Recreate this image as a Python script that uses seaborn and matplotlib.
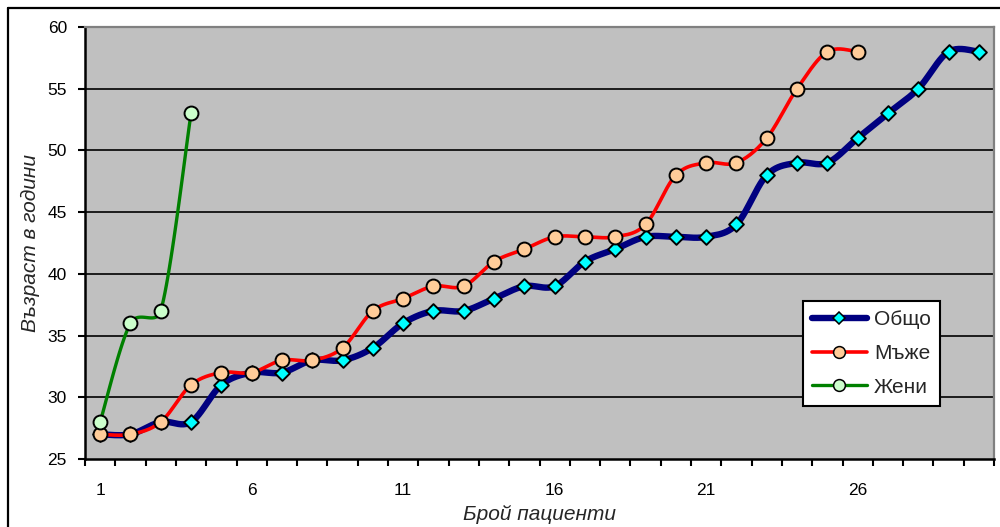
import numpy as np
import pandas as pd
import matplotlib
matplotlib.use("Agg")
import matplotlib.pyplot as plt
from matplotlib.lines import Line2D
import seaborn as sns

# Patient ages, sorted ascending, per group
patients_total = list(range(1, 31))
age_total = [27, 27, 28, 28, 31, 32, 32, 33, 33, 34, 36, 37, 37, 38, 39,
             39, 41, 42, 43, 43, 43, 44, 48, 49, 49, 51, 53, 55, 58, 58]
patients_men = list(range(1, 27))
age_men = [27, 27, 28, 31, 32, 32, 33, 33, 34, 37, 38, 39, 39, 41, 42,
           43, 43, 43, 44, 48, 49, 49, 51, 55, 58, 58]
patients_women = [1, 2, 3, 4]
age_women = [28, 36, 37, 53]

x_tick_labels = ["1", "6", "11", "16", "21", "26"]
y_ticks = [25, 30, 35, 40, 45, 50, 55, 60]

sns.set_theme(style="white")
plt.rcParams["font.family"] = ["Liberation Sans", "DejaVu Sans"]


def smooth(ax, xs, ys, n=24):
    """Spreadsheet-style smoothed line: Bezier segments whose control
    vectors are limited to half the segment length (in screen space)."""
    data = np.column_stack([xs, ys]).astype(float)
    pts = ax.transData.transform(data)
    m = len(pts)
    out = []
    for i in range(m - 1):
        p0 = pts[i - 1] if i > 0 else pts[i]
        p1 = pts[i]
        p2 = pts[i + 1]
        p3 = pts[i + 2] if i + 2 < m else pts[i + 1]
        d12 = np.hypot(*(p2 - p1))
        d02 = np.hypot(*(p2 - p0))
        d13 = np.hypot(*(p3 - p1))
        f1 = 1 / 6 if d02 / 6 < d12 / 2 else d12 / d02 / 2
        f2 = 1 / 6 if d13 / 6 < d12 / 2 else d12 / d13 / 2
        c1 = p1 + (p2 - p0) * f1
        c2 = p2 - (p3 - p1) * f2
        t = np.linspace(0, 1, n, endpoint=(i == m - 2))[:, None]
        seg = ((1 - t) ** 3) * p1 + 3 * ((1 - t) ** 2) * t * c1 \
            + 3 * (1 - t) * t ** 2 * c2 + t ** 3 * p2
        out.append(seg)
    arr = ax.transData.inverted().transform(np.vstack(out))
    return pd.DataFrame({"x": arr[:, 0], "y": arr[:, 1]})


fig = plt.figure(figsize=(10, 5.27), dpi=100)
ax = fig.add_axes([85 / 1000, (527 - 459) / 527, (994 - 85) / 1000, (459 - 27) / 527])
ax.set_facecolor("#C0C0C0")
ax.set_xlim(0.5, 30.5)
ax.set_ylim(25, 60)

series = [
    ("Общо", patients_total, age_total, "#000080", 4.6, "D", "#00FFFF", 7.5),
    ("Мъже", patients_men, age_men, "#FF0000", 2.6, "o", "#FFCC99", 10),
    ("Жени", patients_women, age_women, "#008000", 2.4, "o", "#CCFFCC", 10),
]

z = 3
handles = []
for name, xs, ys, lc, lw, mk, mfc, ms in series:
    curve = smooth(ax, xs, ys)
    sns.lineplot(data=curve, x="x", y="y", sort=False, estimator=None,
                 color=lc, linewidth=lw, ax=ax, zorder=z)
    pts = pd.DataFrame({"x": xs, "y": ys})
    sns.scatterplot(data=pts, x="x", y="y", marker=mk, s=ms ** 2,
                    color=mfc, edgecolor="black", linewidth=1.4, ax=ax, zorder=z + 1)
    z += 2
    handles.append(Line2D([0], [0], color=lc, linewidth=lw, marker=mk,
                          markersize=ms * 0.85, markerfacecolor=mfc,
                          markeredgecolor="black", markeredgewidth=1.1))

# Axes ranges and grid
ax.set_xlim(0.5, 30.5)
ax.set_ylim(25, 60)
ax.set_yticks(y_ticks)
ax.set_yticklabels([str(v) for v in y_ticks])
for v in y_ticks[1:-1]:
    ax.axhline(v, color="black", linewidth=1.2, zorder=1)

# Category axis: ticks at boundaries, labels at every fifth category
ax.set_xticks([1, 6, 11, 16, 21, 26])
ax.set_xticklabels(x_tick_labels)
ax.set_xticks(np.arange(0.5, 31, 1.0), minor=True)
ax.tick_params(axis="x", which="major", length=0, pad=17, labelsize=12.5, colors="black")
ax.tick_params(axis="x", which="minor", length=5, width=1.5, direction="out",
               color="black", bottom=True)
ax.tick_params(axis="y", which="major", length=5, width=1.5, direction="out",
               pad=8, labelsize=12.5, colors="black", left=True)

for side in ["left", "bottom"]:
    ax.spines[side].set_color("black")
    ax.spines[side].set_linewidth(1.8)
for side in ["top", "right"]:
    ax.spines[side].set_color("#808080")
    ax.spines[side].set_linewidth(1.6)

ax.set_xlabel("Брой пациенти", fontsize=15, fontstyle="italic", labelpad=5)
ax.set_ylabel("Възраст в години", fontsize=15, fontstyle="italic", labelpad=5)

leg = ax.legend(handles, [s[0] for s in series], loc="upper left",
                bbox_to_anchor=((803 - 85) / 909, (459 - 301) / 432),
                frameon=True, fancybox=False, framealpha=1, edgecolor="black",
                fontsize=15, handlelength=2.6, handletextpad=0.35,
                labelspacing=0.7, borderpad=0.45, borderaxespad=0)
leg.get_frame().set_linewidth(1.5)
leg.set_zorder(20)

# Outer chart frame (left and top edges)
fig.add_artist(Line2D([7.5 / 1000, 7.5 / 1000], [0, 1 - 8 / 527], color="black",
                      linewidth=1.6, transform=fig.transFigure))
fig.add_artist(Line2D([7.5 / 1000, 1], [1 - 8 / 527, 1 - 8 / 527], color="black",
                      linewidth=1.6, transform=fig.transFigure))

fig.savefig("out.png", dpi=100, facecolor="white")
